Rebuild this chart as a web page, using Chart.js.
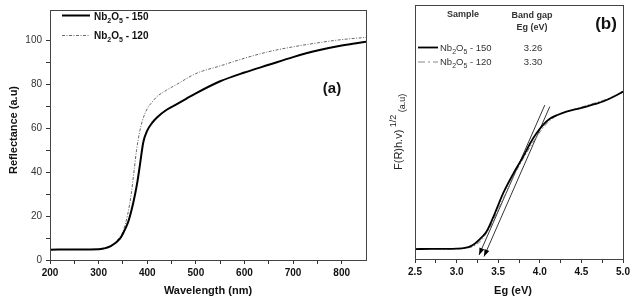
<!DOCTYPE html>
<html>
<head>
<meta charset="utf-8">
<script src="https://cdn.jsdelivr.net/npm/chart.js@4.4.1/dist/chart.umd.min.js"></script>
<style>
  body { margin: 0; background: #fff; width: 634px; height: 303px; position: relative; overflow: hidden; }
  canvas { position: absolute; top: 0; }
</style>
</head>
<body>
<canvas id="left" width="380" height="303" style="left:0"></canvas>
<canvas id="right" width="254" height="303" style="left:380px"></canvas>
<script>
// (a) reflectance vs wavelength
const wl150 = [200, 250, 300, 310, 325, 344, 350, 361, 368, 375, 380, 385, 392, 400, 410, 420, 440, 460, 480, 500, 550, 600, 650, 700, 750, 800, 850];
const refl150 = [4.7, 4.8, 4.9, 5.2, 6.3, 9.8, 12, 17.5, 23, 30, 36, 43.4, 53.8, 59, 62.5, 65, 68.5, 71, 73.5, 76, 81.5, 85.5, 89, 92.5, 95.5, 97.8, 99.5];
const wl120 = [200, 250, 300, 320, 340, 350, 360, 367, 372, 378, 384, 390, 400, 410, 420, 440, 460, 500, 550, 600, 650, 700, 750, 800, 850];
const refl120 = [4.7, 4.8, 4.9, 5.8, 9.5, 13, 21, 30, 39, 50, 58, 63.5, 69, 72, 74.5, 77.5, 80, 85, 88.5, 92, 95, 97.2, 99, 100.5, 101.5];
const wlTicks = [200, 250, 300, 350, 400, 450, 500, 550, 600, 650, 700, 750, 800];
const reflTicks = [0, 10, 20, 30, 40, 50, 60, 70, 80, 90, 100];

// (b) Kubelka-Munk plot
const eg150 = [2.5, 2.7, 2.9, 3.0, 3.1, 3.15, 3.2, 3.25, 3.3, 3.36, 3.46, 3.56, 3.68, 3.8, 3.88, 3.96, 4.04, 4.12, 4.22, 4.32, 4.44, 4.56, 4.66, 4.76, 4.88, 5.0];
const km150 = [3.9, 4.0, 4.0, 4.1, 4.4, 4.8, 5.6, 6.9, 8.5, 10.8, 18, 25.9, 33.5, 40.3, 45.3, 49.5, 52.8, 55.2, 56.8, 58, 59, 60, 61, 62, 63.8, 65.9];
const eg120 = [2.5, 2.7, 2.9, 3.0, 3.1, 3.2, 3.3, 3.4, 3.5, 3.6, 3.7, 3.8, 3.9, 3.98, 4.06, 4.14, 4.24, 4.34, 4.5, 4.7, 4.85, 5.0];
const km120 = [3.9, 4.0, 4.0, 4.0, 4.2, 5.0, 7.5, 12.5, 19.5, 26.5, 33.5, 39.5, 45, 49, 52.5, 55, 57, 58.2, 59.8, 61.8, 63.5, 65.8];
const tangent150 = { x: [3.27, 4.06], y: [1.6, 60.6] };
const tangent120 = { x: [3.33, 4.12], y: [1.0, 60.0] };
const egTicks = [2.5, 2.75, 3.0, 3.25, 3.5, 3.75, 4.0, 4.25, 4.5, 4.75, 5.0];
const bandGaps = ["3.26", "3.30"];

const FONT = '"Liberation Sans", Arial, sans-serif';
const toPts = (xs, ys) => xs.map((x, i) => ({ x: x, y: ys[i] }));

function rich(ctx, parts, x, y, align) {
  let w = 0;
  parts.forEach(p => { ctx.font = p.f; w += ctx.measureText(p.t).width; });
  let cx = align === "center" ? x - w / 2 : x;
  ctx.textAlign = "left";
  ctx.textBaseline = "alphabetic";
  parts.forEach(p => {
    ctx.font = p.f;
    ctx.fillText(p.t, cx, y + (p.dy || 0));
    cx += ctx.measureText(p.t).width;
  });
}

function nbLabel(weight, size, tail) {
  const big = weight + " " + size + "px " + FONT;
  const small = weight + " " + Math.round(size * 0.72) + "px " + FONT;
  return [
    { t: "Nb", f: big }, { t: "2", f: small, dy: 3 },
    { t: "O", f: big }, { t: "5", f: small, dy: 3 },
    { t: tail, f: big }
  ];
}

function line(ctx, x1, y1, x2, y2, width, color, dash) {
  ctx.save();
  ctx.strokeStyle = color;
  ctx.lineWidth = width;
  ctx.setLineDash(dash || []);
  ctx.beginPath();
  ctx.moveTo(x1, y1);
  ctx.lineTo(x2, y2);
  ctx.stroke();
  ctx.restore();
}

const frame = {
  id: "frame",
  afterDraw(chart) {
    const a = chart.chartArea;
    const ctx = chart.ctx;
    ctx.save();
    ctx.strokeStyle = "#444";
    ctx.lineWidth = 1;
    ctx.strokeRect(Math.round(a.left) + 0.5, Math.round(a.top) + 0.5, Math.round(a.right - a.left), Math.round(a.bottom - a.top));
    ctx.restore();
  }
};

const axisBase = {
  grid: { drawOnChartArea: false, drawTicks: true, tickLength: 4, color: "#333" },
  border: { color: "#333" }
};

// ---------- (a) ----------
const leftDecor = {
  id: "leftDecor",
  afterDraw(chart) {
    const ctx = chart.ctx;
    ctx.save();
    ctx.fillStyle = "#111";
    // legend
    line(ctx, 62, 15.5, 90, 15.5, 2, "#000");
    line(ctx, 62, 35.5, 90, 35.5, 1, "#666", [3, 1.5, 1, 1.5]);
    rich(ctx, nbLabel("bold", 10, " - 150"), 94, 19.5);
    rich(ctx, nbLabel("bold", 10, " - 120"), 94, 38.5);
    // panel label
    ctx.font = "bold 15px " + FONT;
    ctx.textAlign = "center";
    ctx.fillText("(a)", 332, 93);
    // axis titles
    ctx.font = "bold 11px " + FONT;
    ctx.fillText("Wavelength (nm)", 208, 294);
    ctx.translate(17, 130);
    ctx.rotate(-Math.PI / 2);
    ctx.fillText("Reflectance (a.u)", 0, 0);
    ctx.restore();
  }
};

new Chart(document.getElementById("left"), {
  type: "line",
  data: {
    datasets: [
      {
        label: "Nb2O5 - 150",
        data: toPts(wl150, refl150),
        borderColor: "#000",
        borderWidth: 2,
        pointRadius: 0,
        cubicInterpolationMode: "monotone"
      },
      {
        label: "Nb2O5 - 120",
        data: toPts(wl120, refl120),
        borderColor: "#666",
        borderWidth: 1,
        borderDash: [3, 1.5, 1, 1.5],
        pointRadius: 0,
        cubicInterpolationMode: "monotone"
      }
    ]
  },
  options: {
    responsive: false,
    animation: false,
    devicePixelRatio: 1,
    layout: { padding: { top: 5, right: 14, left: 0, bottom: 0 } },
    plugins: { legend: { display: false }, tooltip: { enabled: false } },
    scales: {
      x: {
        ...axisBase,
        type: "linear",
        min: 200,
        max: 850,
        afterBuildTicks: (s) => { s.ticks = wlTicks.map(v => ({ value: v })); },
        afterFit: (s) => { s.height = 43; },
        ticks: {
          autoSkip: false,
          maxRotation: 0,
          padding: 3,
          color: "#111",
          font: { family: FONT, size: 10, weight: "bold" },
          callback: (v) => (v % 100 === 0 ? String(v) : "")
        }
      },
      y: {
        ...axisBase,
        min: 0,
        max: 114,
        afterBuildTicks: (s) => { s.ticks = reflTicks.map(v => ({ value: v })); },
        afterFit: (s) => { s.width = 50; },
        ticks: {
          autoSkip: false,
          padding: 4,
          color: "#333",
          font: { family: FONT, size: 10 },
          callback: (v) => (v % 20 === 0 ? String(v) : "")
        }
      }
    }
  },
  plugins: [frame, leftDecor]
});

// ---------- (b) ----------
const rightDecor = {
  id: "rightDecor",
  afterDatasetsDraw(chart) {
    // arrow heads at the lower end of the two tangent lines
    const ctx = chart.ctx;
    [2, 3].forEach(i => {
      const pts = chart.getDatasetMeta(i).data;
      const p0 = pts[0], p1 = pts[1];
      const ang = Math.atan2(p0.y - p1.y, p0.x - p1.x);
      const len = 7, half = 2.6;
      ctx.save();
      ctx.fillStyle = "#000";
      ctx.translate(p0.x, p0.y);
      ctx.rotate(ang);
      ctx.beginPath();
      ctx.moveTo(0, 0);
      ctx.lineTo(-len, -half);
      ctx.lineTo(-len, half);
      ctx.closePath();
      ctx.fill();
      ctx.restore();
    });
  },
  afterDraw(chart) {
    const ctx = chart.ctx;
    ctx.save();
    ctx.fillStyle = "#333";
    // table legend
    ctx.textAlign = "center";
    ctx.font = "bold 9px " + FONT;
    ctx.fillText("Sample", 83, 17);
    ctx.fillText("Band gap", 152, 17.5);
    ctx.fillText("Eg (eV)", 152, 30);
    line(ctx, 38, 47.5, 58, 47.5, 1.8, "#000");
    line(ctx, 38, 62, 58, 62, 1, "#888", [7, 3, 2, 3]);
    ctx.fillStyle = "#333";
    rich(ctx, nbLabel("normal", 9.5, " - 150"), 60, 51);
    rich(ctx, nbLabel("normal", 9.5, " - 120"), 60, 65);
    ctx.textAlign = "center";
    ctx.font = "9.5px " + FONT;
    ctx.fillText(bandGaps[0], 153, 51);
    ctx.fillText(bandGaps[1], 153, 65);
    // panel label
    ctx.fillStyle = "#111";
    ctx.font = "bold 17px " + FONT;
    ctx.fillText("(b)", 226, 29);
    // axis titles
    ctx.font = "bold 11px " + FONT;
    ctx.fillText("Eg (eV)", 133, 294);
    ctx.translate(21.5, 170);
    ctx.rotate(-Math.PI / 2);
    ctx.fillStyle = "#222";
    rich(ctx, [
      { t: "F(R)h.v)", f: "11px " + FONT },
      { t: " 1/2", f: "9px " + FONT, dy: -6 },
      { t: " (a.u)", f: "9px " + FONT, dy: 3 }
    ], 0, 0);
    ctx.restore();
  }
};

new Chart(document.getElementById("right"), {
  type: "line",
  data: {
    datasets: [
      {
        label: "Nb2O5 - 150",
        data: toPts(eg150, km150),
        borderColor: "#000",
        borderWidth: 1.8,
        pointRadius: 0,
        cubicInterpolationMode: "monotone"
      },
      {
        label: "Nb2O5 - 120",
        data: toPts(eg120, km120),
        borderColor: "#777",
        borderWidth: 1,
        borderDash: [5, 2, 1.5, 2],
        pointRadius: 0,
        cubicInterpolationMode: "monotone"
      },
      {
        label: "tangent 150",
        data: toPts(tangent150.x, tangent150.y),
        borderColor: "#000",
        borderWidth: 0.8,
        pointRadius: 0
      },
      {
        label: "tangent 120",
        data: toPts(tangent120.x, tangent120.y),
        borderColor: "#000",
        borderWidth: 0.8,
        pointRadius: 0
      }
    ]
  },
  options: {
    responsive: false,
    animation: false,
    devicePixelRatio: 1,
    layout: { padding: { top: 5, right: 11, left: 0, bottom: 0 } },
    plugins: { legend: { display: false }, tooltip: { enabled: false } },
    scales: {
      x: {
        ...axisBase,
        type: "linear",
        min: 2.5,
        max: 5.0,
        afterBuildTicks: (s) => { s.ticks = egTicks.map(v => ({ value: v })); },
        afterFit: (s) => { s.height = 44; },
        ticks: {
          autoSkip: false,
          maxRotation: 0,
          padding: 3,
          color: "#111",
          font: { family: FONT, size: 10, weight: "bold" },
          callback: (v) => (Math.abs(v * 2 - Math.round(v * 2)) < 1e-9 ? v.toFixed(1) : "")
        }
      },
      y: {
        min: 0,
        max: 100,
        grid: { drawOnChartArea: false, drawTicks: false },
        border: { color: "#333" },
        ticks: { display: false },
        afterFit: (s) => { s.width = 35; }
      }
    }
  },
  plugins: [frame, rightDecor]
});
</script>
</body>
</html>
